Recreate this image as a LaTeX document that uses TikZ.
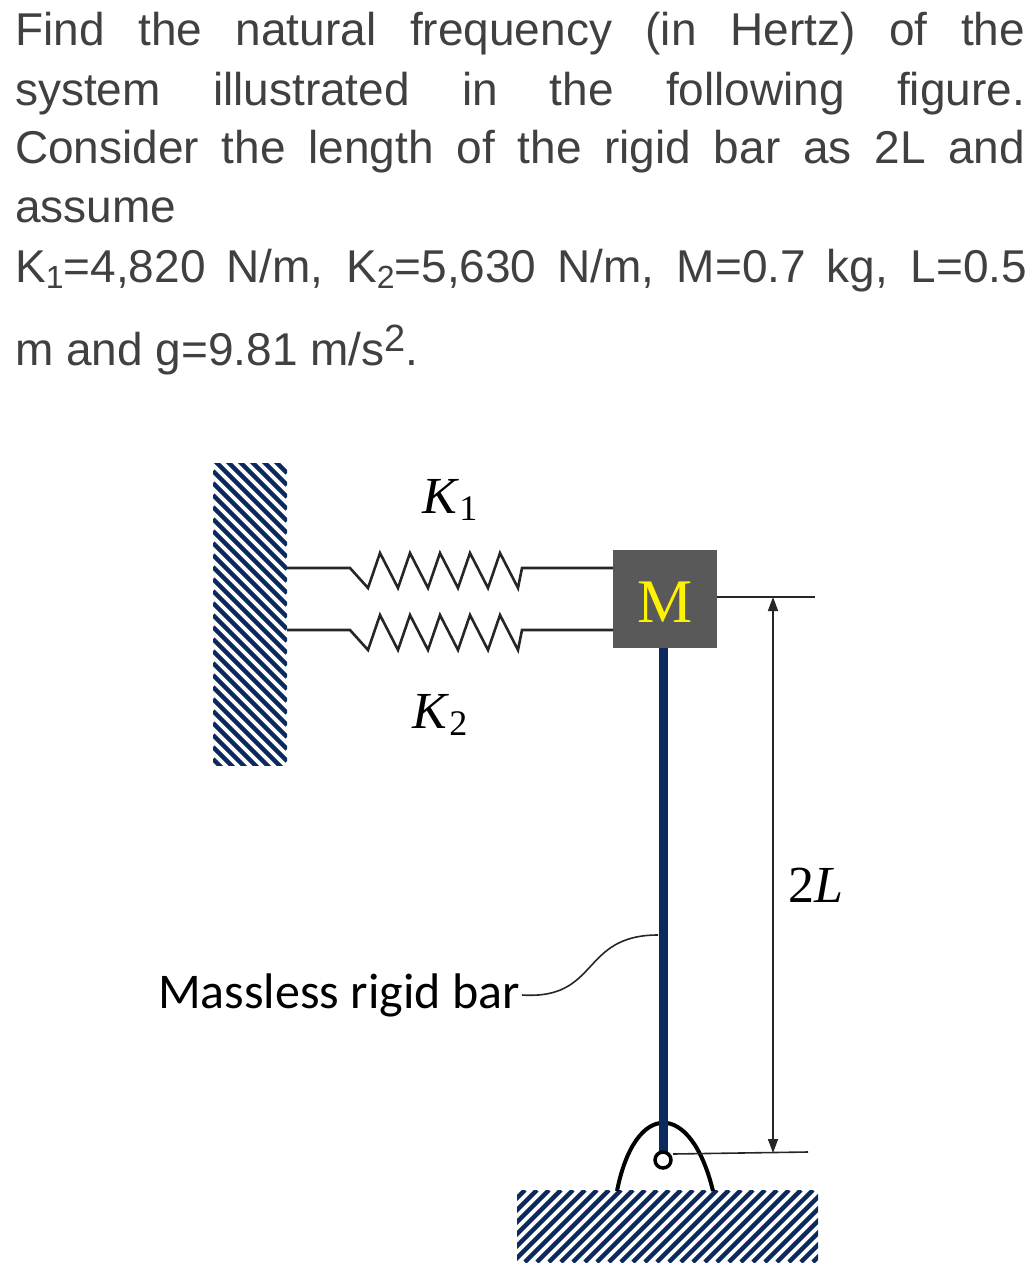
\documentclass[tikz,border=0pt]{standalone}
\usepackage{fontspec}
\usetikzlibrary{arrows.meta}
\setmainfont{Liberation Sans}
\newfontfamily\calib{Carlito}
\newfontfamily\serifm{Liberation Serif}
\definecolor{navy}{HTML}{0D2A5E}
\definecolor{massgray}{HTML}{595959}
\begin{document}
\begin{tikzpicture}[x=1pt,y=-1pt,
  qline/.style={anchor=base west,inner sep=0pt,font=\fontsize{46}{48}\selectfont,color=black!75},
  hatchl/.style={navy,line width=4.5pt},
  thin/.style={line width=1.6pt,black!85},
  spr/.style={line width=2.6pt,black!85},
  klab/.style={font=\serifm\fontsize{52}{52}\selectfont}]
\useasboundingbox (0,0) rectangle (1028,1283);
% question text
\node[qline] (l1) at (15,45) {\makebox[1010pt][s]{Find the natural frequency (in Hertz) of the}};
\node[qline] (l2) at (15,105) {\makebox[1010pt][s]{system illustrated in the following figure.}};
\node[qline] (l3) at (15,163) {\makebox[1010pt][s]{Consider the length of the rigid bar as 2L and}};
\node[qline] (l4) at (15,222) {assume};
\node[qline] (l5) at (15,282) {\makebox[1012pt][s]{K\raisebox{-0.25ex}{\fontsize{32}{32}\selectfont 1}=4,820 N/m, K\raisebox{-0.25ex}{\fontsize{32}{32}\selectfont 2}=5,630 N/m, M=0.7 kg, L=0.5}};
\node[qline] (l6) at (15,365) {m and g=9.81 m/s\raisebox{0.55ex}{\fontsize{38}{38}\selectfont 2}.};
% wall
\begin{scope}
\clip (213,463) rectangle (287,765);
\foreach \i in {-100,-88,...,400} {\draw[hatchl] (213,463+\i) -- (287,537+\i);}
\end{scope}
% ground
\begin{scope}
\clip (517,1190) rectangle (818,1262);
\foreach \i in {-100,-88,...,330} {\draw[hatchl] (517+\i,1262) -- (589+\i,1190);}
\end{scope}
% mass
\node[fill=massgray,minimum width=104pt,minimum height=98pt,inner sep=0pt] (m) at (665,599) {};
\node[yellow,font=\serifm\fontsize{62}{62}\selectfont] (mt) at (665,602) {M};
% springs
\foreach \y/\n in {568/a,630/b} {
  \coordinate (w\n) at (287,\y);
  \coordinate (s\n) at (613,\y);
  \draw[spr,line join=miter] (w\n) -- (350,\y)
   \foreach \k in {0,...,4} {-- (368+30*\k,\y+20) -- (380+30*\k,\y-15)}
   -- (518,\y+20) -- (522,\y) -- (s\n);
}
\node[klab] (k1) at (450,500) {\textit{K}\raisebox{-0.3ex}{\fontsize{36}{36}\selectfont 1}};
\node[klab] (k2) at (440,715) {\textit{K}\raisebox{-0.3ex}{\fontsize{36}{36}\selectfont 2}};
% pivot and bar
\coordinate (piv) at (663,1160);
\draw[line width=4pt] (617,1191) .. controls (635,1100) and (691,1100) .. (713,1191);
\draw[navy,line width=9pt] (m.south -| piv) -- ([yshift=-8pt]piv);
\draw[line width=3.5pt,fill=white] (piv) circle (8pt);
% dimension
\coordinate (dt) at (773,597);
\coordinate (db) at (773,1153);
\draw[thin] (m.east |- dt) -- (815,597);
\draw[thin] (piv) ++(10,-6) -- (808,1152);
\draw[thin,{Triangle[length=14pt,width=10pt]}-{Triangle[length=14pt,width=10pt]}] (dt) -- (db);
\node[klab,anchor=west] (twol) at (785,885) {2\textit{L}};
% label
\node[font=\calib\fontsize{50}{50}\selectfont,anchor=east,inner sep=2pt] (mrb) at (522,995) {Massless rigid bar};
\draw[thin] (mrb.east) .. controls (600,1000) and (580,935) .. (658,935);
\end{tikzpicture}
\end{document}
